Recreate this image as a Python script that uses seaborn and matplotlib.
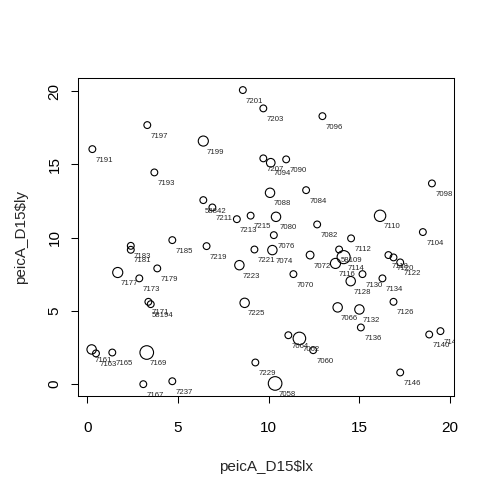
import pandas as pd
import seaborn as sns
import matplotlib.pyplot as plt

# point ids, positions (peicA_D15$lx / $ly) and relative weight
labels = [
    "7191", "7197", "7193", "7199", "7201", "7203", "7207", "58842", "7211",
    "7213", "7215", "7219", "7221", "7223", "7225", "7229", "7237", "7167",
    "7169", "7185", "7183", "7181", "7177", "7173", "7179", "7171", "58194",
    "7161", "7163", "7165",
    "7058", "7060", "7062", "7064", "7066", "7070", "7072", "7074", "7076",
    "7080", "7082", "7084", "7088", "7090", "7094", "7096", "7098", "7104",
    "7110", "7112", "58109", "7114", "7116", "7118", "7120", "7122", "7128",
    "7130", "7134", "7126", "7132", "7136", "7140", "7142", "7146",
]
lx = [
    0.28, 3.31, 3.70, 6.40, 8.58, 9.71, 9.71, 6.40, 6.90,
    8.25, 9.01, 6.58, 9.22, 8.39, 8.68, 9.27, 4.69, 3.09,
    3.28, 4.69, 2.40, 2.40, 1.68, 2.87, 3.86, 3.37, 3.50,
    0.24, 0.48, 1.38,
    10.36, 12.46, 11.70, 11.09, 13.81, 11.37, 12.29, 10.21, 10.29,
    10.41, 12.68, 12.07, 10.08, 10.97, 10.12, 12.97, 19.01, 18.51,
    16.15, 14.55, 13.89, 14.14, 13.69, 16.61, 16.89, 17.26, 14.53,
    15.18, 16.28, 16.89, 15.01, 15.09, 18.86, 19.48, 17.26,
]
ly = [
    16.04, 17.68, 14.45, 16.59, 20.07, 18.82, 15.41, 12.56, 12.06,
    11.26, 11.50, 9.42, 9.19, 8.12, 5.55, 1.48, 0.20, 0.00,
    2.16, 9.83, 9.44, 9.17, 7.62, 7.22, 7.90, 5.62, 5.46,
    2.37, 2.10, 2.16,
    0.05, 2.32, 3.12, 3.34, 5.24, 7.51, 8.81, 9.15, 10.17,
    11.42, 10.90, 13.24, 13.06, 15.34, 15.11, 18.29, 13.70, 10.38,
    11.49, 9.95, 9.19, 8.67, 8.24, 8.81, 8.65, 8.31, 7.03,
    7.51, 7.22, 5.62, 5.10, 3.87, 3.39, 3.62, 0.80,
]
weight = [
    1.0, 1.0, 1.0, 1.4, 1.0, 1.0, 1.0, 1.0, 1.0,
    1.0, 1.0, 1.0, 1.0, 1.3, 1.3, 1.0, 1.0, 1.0,
    2.0, 1.0, 1.0, 1.0, 1.4, 1.0, 1.0, 1.0, 1.0,
    1.3, 1.0, 1.0,
    2.0, 1.0, 1.8, 1.0, 1.3, 1.0, 1.1, 1.3, 1.0,
    1.3, 1.0, 1.0, 1.3, 1.0, 1.2, 1.0, 1.0, 1.0,
    1.6, 1.0, 1.0, 1.9, 1.4, 1.0, 1.0, 1.0, 1.3,
    1.0, 1.0, 1.0, 1.3, 1.0, 1.0, 1.0, 1.0,
]
ticks = [0, 5, 10, 15, 20]


def main():
    sns.set_style("ticks")
    plt.rcParams["font.family"] = ["Liberation Sans", "DejaVu Sans"]

    df = pd.DataFrame({"id": labels, "lx": lx, "ly": ly, "w": weight})

    fig = plt.figure(figsize=(4.95, 4.94), dpi=100)
    ax = fig.add_axes([0.158, 0.198, 0.76, 0.644])

    sns.scatterplot(data=df, x="lx", y="ly", size="w", sizes=(24, 96), size_norm=(1, 2),
                    facecolor="none", edgecolor="black", linewidth=0.8,
                    legend=False, ax=ax)

    for _, row in df.iterrows():
        ax.annotate(row["id"], (row["lx"], row["ly"]), xytext=(8.6, -7.9),
                    textcoords="offset points", fontsize=5.6,
                    ha="center", va="center", clip_on=True)

    ax.set_xlim(-0.5, 20.25)
    ax.set_ylim(-0.82, 20.89)
    ax.set_xticks(ticks)
    ax.set_yticks(ticks)
    for side in ["left", "right", "top", "bottom"]:
        ax.spines[side].set_visible(True)
        ax.spines[side].set_linewidth(0.75)
        ax.spines[side].set_color("black")
    ax.tick_params(axis="both", length=5, width=0.75, colors="black", labelsize=11)
    ax.tick_params(axis="x", pad=13)
    ax.tick_params(axis="y", pad=7, labelrotation=90)
    for t in ax.get_yticklabels():
        t.set_va("center")
    ax.set_xlabel("peicA_D15$lx", fontsize=11, labelpad=18)
    ax.set_ylabel("peicA_D15$ly", fontsize=11, labelpad=14)

    fig.savefig("out.png", dpi=100, facecolor="white")


if __name__ == '__main__':
    main()
